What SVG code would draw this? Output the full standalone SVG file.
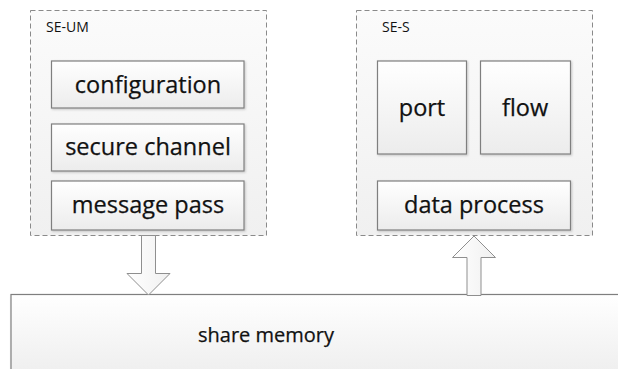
<svg xmlns="http://www.w3.org/2000/svg" width="618" height="369" viewBox="0 0 618 369">
<defs>
<linearGradient id="g" x1="0" y1="0" x2="0" y2="1">
<stop offset="0" stop-color="#ffffff"/>
<stop offset="1" stop-color="#ececec"/>
</linearGradient>
<linearGradient id="gc" x1="0" y1="0" x2="0" y2="1">
<stop offset="0" stop-color="#fbfbfb"/>
<stop offset="1" stop-color="#f0f0f0"/>
</linearGradient>
<linearGradient id="ga" x1="0" y1="0" x2="1" y2="0">
<stop offset="0" stop-color="#ffffff"/>
<stop offset="1" stop-color="#f0f0f0"/>
</linearGradient>
<filter id="sh" x="-10%" y="-10%" width="120%" height="130%">
<feDropShadow dx="1" dy="1" stdDeviation="0.8" flood-color="#000" flood-opacity="0.2"/>
</filter>
</defs>
<style>
.cont{fill:url(#gc);stroke:#8a8a8a;stroke-width:1;stroke-dasharray:5 3}
.box{fill:url(#g);stroke:#7f7f7f;stroke-width:1.2;filter:url(#sh)}
.arr{fill:url(#ga);stroke:#8f8f8f;stroke-width:1}
.t{font-family:"Open Sans","Noto Sans",sans-serif;fill:#111;stroke:#111;stroke-width:0.25;text-anchor:middle;font-size:23.5px}
.lbl{font-family:"Open Sans","Noto Sans",sans-serif;fill:#111;font-size:14px}
</style>
<g id="se-um">
<rect class="cont" x="30.5" y="10.5" width="236" height="225"/>
<text class="lbl" x="46" y="31.5">SE-UM</text>
</g>
<g id="configuration">
<rect class="box" x="51.5" y="61" width="192.5" height="47"/>
<text class="t" x="148" y="92.5">configuration</text>
</g>
<g id="secure-channel">
<rect class="box" x="51.5" y="124" width="192.5" height="47"/>
<text class="t" x="148" y="155">secure channel</text>
</g>
<g id="message-pass">
<rect class="box" x="51.5" y="181" width="192.5" height="49"/>
<text class="t" x="148" y="213" font-size="23px">message pass</text>
</g>
<g id="se-s">
<rect class="cont" x="356.5" y="10.5" width="236" height="225"/>
<text class="lbl" x="382" y="31.5">SE-S</text>
</g>
<g id="port">
<rect class="box" x="377.5" y="61" width="89" height="93"/>
<text class="t" x="422" y="115.5">port</text>
</g>
<g id="flow">
<rect class="box" x="480.5" y="61" width="90" height="93"/>
<text class="t" x="525" y="115.5">flow</text>
</g>
<g id="data-process">
<rect class="box" x="377.5" y="181" width="193" height="49"/>
<text class="t" x="474" y="213">data process</text>
</g>
<g id="share-memory">
<rect class="box" x="11" y="294.5" width="620" height="90"/>
<text class="t" x="266" y="342" style="font-size:20px">share memory</text>
</g>
<g id="connectors">
<path class="arr" d="M141.5,235.5 L155.5,235.5 L155.5,273.5 L170,273.5 L148.5,295 L127,273.5 L141.5,273.5 Z"/>
<path class="arr" d="M467,295.5 L481,295.5 L481,257.5 L495.5,257.5 L474,236 L452.5,257.5 L467,257.5 Z"/>
</g>
</svg>
